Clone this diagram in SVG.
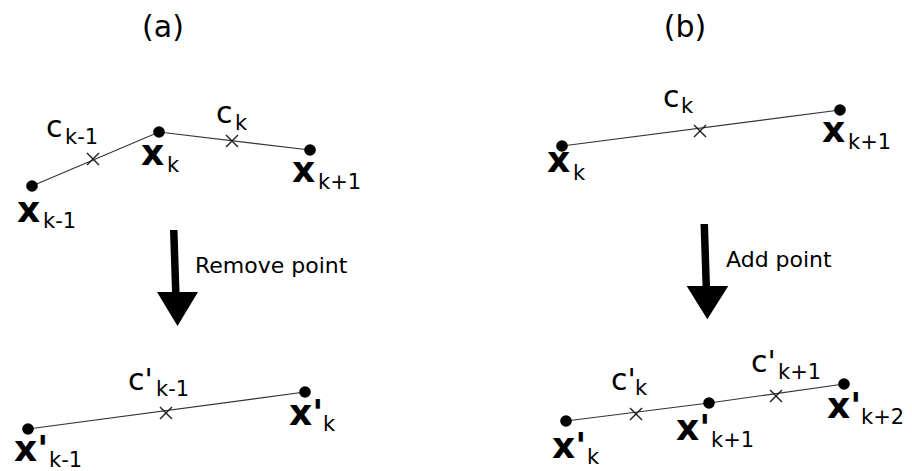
<svg xmlns="http://www.w3.org/2000/svg" width="912" height="471" viewBox="0 0 912 471">
<style>
text{font-family:"DejaVu Sans","Liberation Sans",sans-serif;fill:#000}
.t{font-size:30px}
.c{font-size:30px}
.s{font-size:21px}
.x{font-size:36px;font-weight:bold}
.lbl{font-size:22px}
.seg{stroke:#333;stroke-width:1.2;fill:none}
.cr{stroke:#222;stroke-width:1.4}
.pt{fill:#000}
.arr{fill:#000}
</style>
<defs>
<g id="cross"><line class="cr" x1="-6" y1="-6" x2="6" y2="6"/><line class="cr" x1="-6" y1="6" x2="6" y2="-6"/></g>
</defs>
<rect width="912" height="471" fill="#fff"/>
<text class="t" x="163" y="37" text-anchor="middle">(a)</text>
<text class="t" x="685" y="37" text-anchor="middle">(b)</text>
<g id="connectors">
<polyline class="seg" points="32,186 159,132 310,150"/>
<line class="seg" x1="28" y1="429" x2="305" y2="392"/>
<line class="seg" x1="562" y1="146" x2="840" y2="110"/>
<polyline class="seg" points="566,421 709,403 844,384"/>
<polygon class="arr" points="170,230 177.5,230 179.5,292 198,292 177.5,326 157,292 172,292"/>
<polygon class="arr" points="700.5,224 708,224 710,286 728.3,286 707.3,319.3 686.7,286 702.5,286"/>
</g>
<g id="a-xkm1"><circle class="pt" cx="32" cy="186" r="5.8"/><text x="17" y="222"><tspan class="x">x</tspan><tspan class="s" x="43" y="228">k-1</tspan></text></g>
<g id="a-xk"><circle class="pt" cx="159" cy="132" r="5.8"/><text x="141" y="165"><tspan class="x">x</tspan><tspan class="s" x="167" y="172">k</tspan></text></g>
<g id="a-xkp1"><circle class="pt" cx="310" cy="150" r="5.8"/><text x="292" y="182"><tspan class="x">x</tspan><tspan class="s" x="318" y="189">k+1</tspan></text></g>
<g id="a-ckm1"><use href="#cross" x="93" y="159"/><text x="46" y="137"><tspan class="c">c</tspan><tspan class="s" x="65" y="144">k-1</tspan></text></g>
<g id="a-ck"><use href="#cross" x="232" y="141"/><text x="216" y="123"><tspan class="c">c</tspan><tspan class="s" x="235" y="130">k</tspan></text></g>
<text class="lbl" x="195" y="273">Remove point</text>
<g id="a2-xkm1"><circle class="pt" cx="28" cy="429" r="5.8"/><text x="14" y="461"><tspan class="x">x'</tspan><tspan class="s" x="49" y="467">k-1</tspan></text></g>
<g id="a2-xk"><circle class="pt" cx="305" cy="392" r="5.8"/><text x="289" y="425"><tspan class="x">x'</tspan><tspan class="s" x="323" y="431">k</tspan></text></g>
<g id="a2-ckm1"><use href="#cross" x="166" y="413"/><text x="128" y="390"><tspan class="c">c'</tspan><tspan class="s" x="156" y="396">k-1</tspan></text></g>
<g id="b-xk"><circle class="pt" cx="562" cy="146" r="5.8"/><text x="547" y="172"><tspan class="x">x</tspan><tspan class="s" x="573" y="180">k</tspan></text></g>
<g id="b-xkp1"><circle class="pt" cx="840" cy="110" r="5.8"/><text x="822" y="142"><tspan class="x">x</tspan><tspan class="s" x="848" y="149">k+1</tspan></text></g>
<g id="b-ck"><use href="#cross" x="700" y="131"/><text x="663" y="107"><tspan class="c">c</tspan><tspan class="s" x="681" y="113">k</tspan></text></g>
<text class="lbl" x="726" y="267">Add point</text>
<g id="b2-xk"><circle class="pt" cx="566" cy="421" r="5.8"/><text x="552" y="458"><tspan class="x">x'</tspan><tspan class="s" x="587" y="464">k</tspan></text></g>
<g id="b2-xkp1"><circle class="pt" cx="709" cy="403" r="5.8"/><text x="676" y="440"><tspan class="x">x'</tspan><tspan class="s" x="711" y="447">k+1</tspan></text></g>
<g id="b2-xkp2"><circle class="pt" cx="844" cy="384" r="5.8"/><text x="827" y="418"><tspan class="x">x'</tspan><tspan class="s" x="861" y="424">k+2</tspan></text></g>
<g id="b2-ck"><use href="#cross" x="636" y="414"/><text x="611" y="390"><tspan class="c">c'</tspan><tspan class="s" x="635" y="395">k</tspan></text></g>
<g id="b2-ckp1"><use href="#cross" x="776" y="396"/><text x="751" y="372"><tspan class="c">c'</tspan><tspan class="s" x="778" y="379">k+1</tspan></text></g>
</svg>
